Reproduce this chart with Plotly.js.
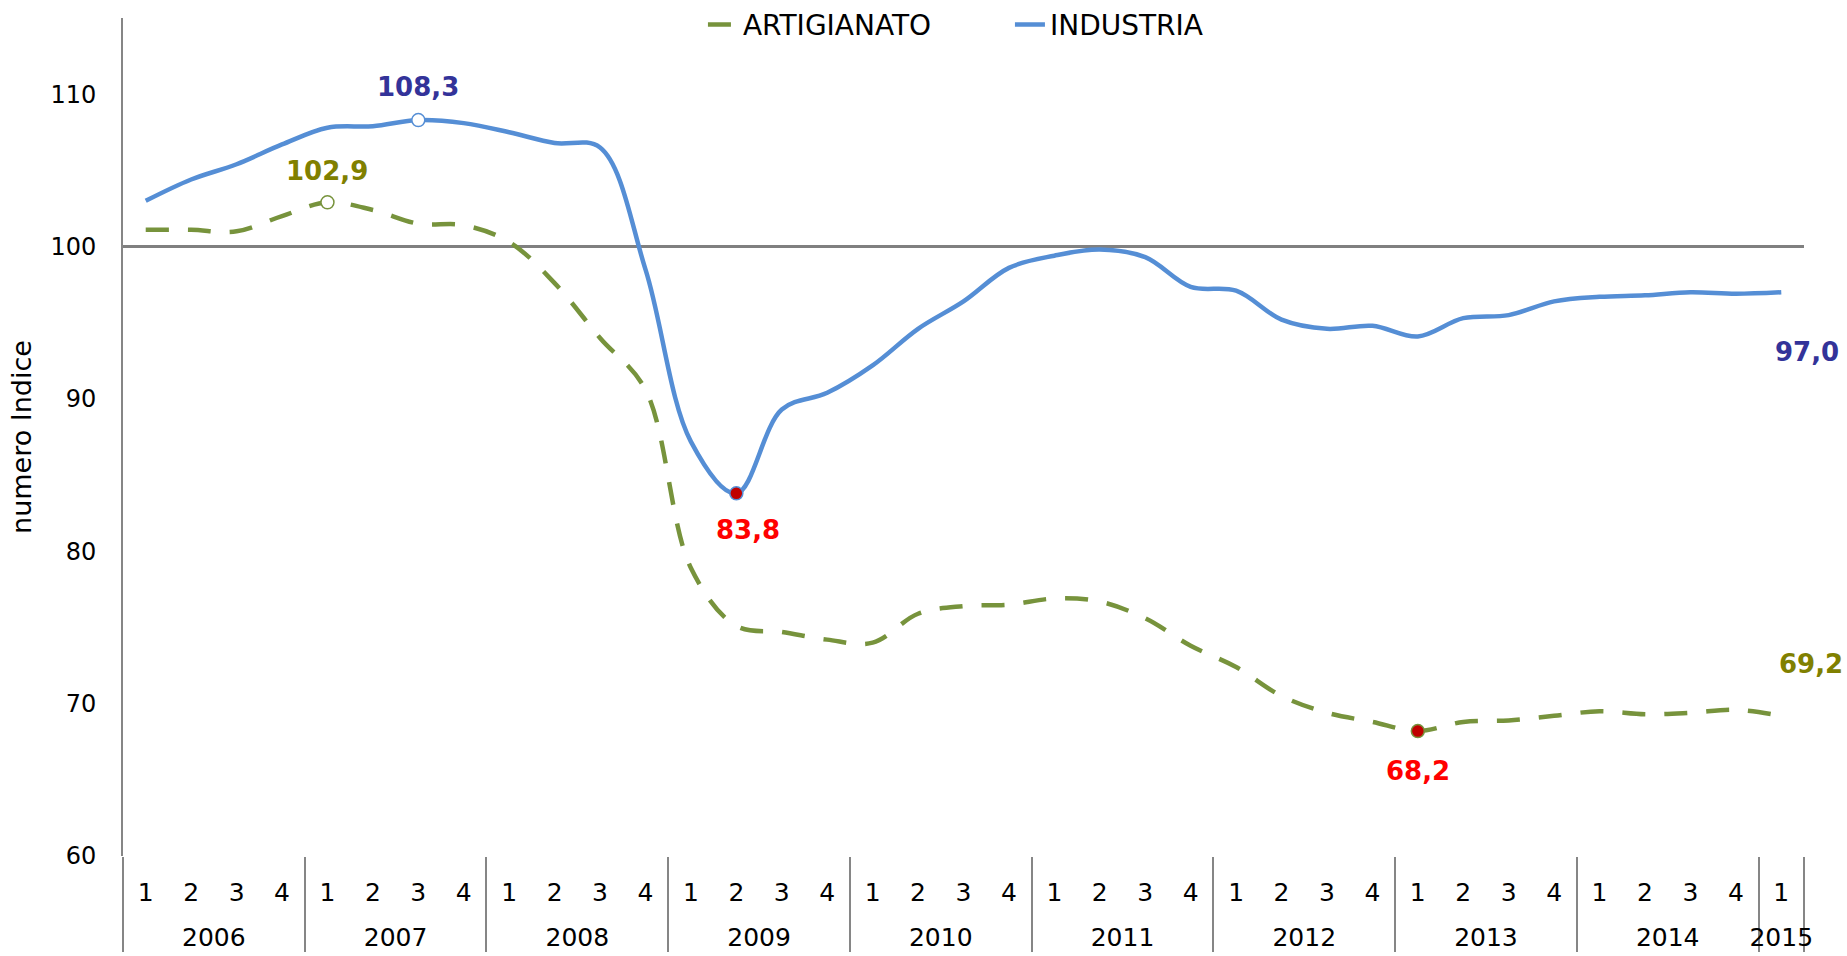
<!DOCTYPE html>
<html>
<head>
<meta charset="utf-8">
<script src="https://cdn.plot.ly/plotly-3.0.1.min.js"></script>
<style>
html,body{margin:0;padding:0;background:#fff;}
#chart{width:1847px;height:956px;}
</style>
</head>
<body>
<div id="chart"></div>
<script>
// ---- data ----
var years = ['2006','2007','2008','2009','2010','2011','2012','2013','2014','2015'];
var quartersPerYear = [4,4,4,4,4,4,4,4,4,1];
var quarterLabels = ['1','2','3','4'];

var artigianato = [101.1,101.1,101.0,102.0, 102.9,102.4,101.5,101.4, 100.3,97.6,94.0,90.6,
                   78.9,75.1,74.7,74.2, 74.0,75.9,76.4,76.5, 76.9,76.7,75.6,73.8,
                   72.4,70.5,69.4,68.8, 68.2,68.8,68.9,69.2, 69.5,69.3,69.4,69.6, 69.2];
var industria = [103.0,104.4,105.4,106.7, 107.8,107.9,108.3,108.1, 107.5,106.8,106.5,98.5,
                 87.2,83.8,89.3,90.4, 92.2,94.6,96.4,98.6, 99.4,99.8,99.3,97.35,
                 97.1,95.2,94.6,94.8, 94.1,95.3,95.5,96.4, 96.7,96.8,97.0,96.9, 97.0];
var seriesNames = ['ARTIGIANATO','INDUSTRIA'];
var yTitle = 'numero Indice';
var baseline = 100;

// ---- build categories ----
var xYear = [], xQ = [];
years.forEach(function(y, k){
  for (var q = 0; q < quartersPerYear[k]; q++) { xYear.push('<br>' + y); xQ.push(quarterLabels[q]); }
});
var nCat = xQ.length;
function idxMax(a){var b=0;for(var i=1;i<a.length;i++) if(a[i]>a[b]) b=i;return b;}
function idxMin(a){var b=0;for(var i=1;i<a.length;i++) if(a[i]<a[b]) b=i;return b;}
function fmt(v){return v.toFixed(1).replace('.',',');}
function pt(arr,i){return {x:[[xYear[i]],[xQ[i]]], y:[arr[i]]};}

var FONT = 'DejaVu Sans, Verdana, sans-serif';
var GREEN = '#77933C', BLUE = '#558ED5', AXIS = '#868686';

var aMax = idxMax(artigianato), aMin = idxMin(artigianato);
var iMax = idxMax(industria), iMin = idxMin(industria);
var last = industria.length - 1;

var traces = [
  {type:'scatter', mode:'lines', name:seriesNames[0], x:[xYear,xQ], y:artigianato,
   line:{color:GREEN, width:4.5, dash:'23px,19px', shape:'spline', smoothing:1}, hoverinfo:'skip'},
  {type:'scatter', mode:'lines', name:seriesNames[1], x:[xYear,xQ], y:industria,
   line:{color:BLUE, width:4.5, shape:'spline', smoothing:1}, hoverinfo:'skip'}
];
function marker(arr,i,fill,edge){
  var p = pt(arr,i);
  return {type:'scatter', mode:'markers', showlegend:false, x:p.x, y:p.y, hoverinfo:'skip',
          marker:{size:13, color:fill, line:{color:edge, width:1.5}}};
}
traces.push(marker(artigianato,aMax,'#FFFFFF',GREEN));
traces.push(marker(industria,iMax,'#FFFFFF',BLUE));
traces.push(marker(industria,iMin,'#C00000',BLUE));
traces.push(marker(artigianato,aMin,'#C00000',GREEN));

function ann(arr,i,color,dx,dy){
  return {xref:'x', yref:'y', x:i, y:arr[i], text:'<b>'+fmt(arr[i])+'</b>', showarrow:false,
          xshift:dx, yshift:dy, font:{family:FONT, size:26, color:color}};
}
var annotations = [
  ann(industria,iMax,'#333399',0,33),
  ann(artigianato,aMax,'#808000',0,31),
  ann(industria,iMin,'#FF0000',12,-37),
  ann(artigianato,aMin,'#FF0000',0,-40),
  ann(industria,last,'#333399',26,-60),
  ann(artigianato,last,'#808000',30,52)
];

var layout = {
  width:1847, height:956,
  margin:{l:123, r:43, t:18, b:100, autoexpand:false},
  paper_bgcolor:'#FFFFFF', plot_bgcolor:'#FFFFFF',
  font:{family:FONT, color:'#000000'},
  showlegend:true,
  legend:{orientation:'h', x:0.345, xanchor:'left', y:0.992, yanchor:'middle',
          entrywidth:262, entrywidthmode:'pixels',
          font:{family:FONT, size:28, color:'#000000'}, bgcolor:'rgba(0,0,0,0)'},
  xaxis:{type:'multicategory', range:[-0.5, nCat-0.5], autorange:false,
         showline:false, showgrid:false, zeroline:false, ticks:'',
         showdividers:true, dividercolor:AXIS, dividerwidth:2,
         tickfont:{family:FONT, size:25, color:'#000000'}, ticklabelstandoff:19},
  yaxis:{range:[60,115], dtick:10, tick0:60, showline:true, linecolor:AXIS, linewidth:2,
         showgrid:false, zeroline:false, ticks:'', ticklabelstandoff:20,
         tickfont:{family:FONT, size:24, color:'#000000'},
         title:{text:yTitle, font:{family:FONT, size:27, color:'#000000'}, standoff:11}},
  shapes:[{type:'line', xref:'paper', yref:'y', x0:0, x1:1, y0:baseline, y1:baseline,
           line:{color:'#808080', width:3}, layer:'below'}],
  annotations:annotations
};

Plotly.newPlot('chart', traces, layout, {displayModeBar:false, staticPlot:true});
</script>
</body>
</html>
